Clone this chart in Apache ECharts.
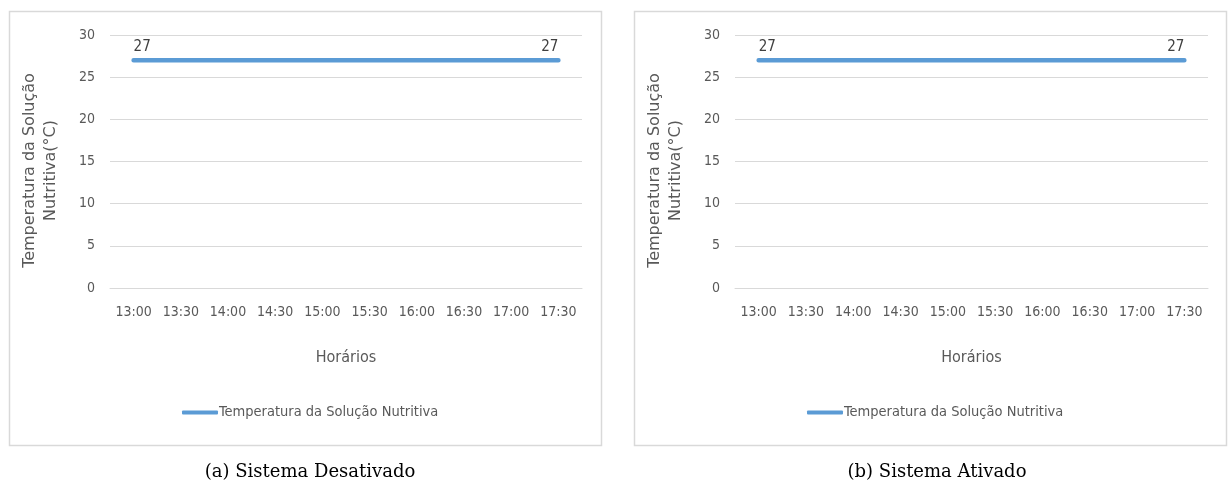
<!DOCTYPE html>
<html><head><meta charset="utf-8">
<script src="https://cdn.jsdelivr.net/npm/echarts@6/dist/echarts.min.js"></script>
<style>html,body{margin:0;padding:0;background:#fff}#c{width:1228px;height:495px}</style>
</head><body><div id="c"></div>
<script>
const categories = ['13:00','13:30','14:00','14:30','15:00','15:30','16:00','16:30','17:00','17:30'];
const tempDesativado = [27,27,27,27,27,27,27,27,27,27];
const tempAtivado = [27,27,27,27,27,27,27,27,27,27];
const yTicks = {min:0, max:30, interval:5};
const seriesName = 'Temperatura da Solução Nutritiva';
const yTitle = 'Temperatura da Solução\nNutritiva(°C)';
const xTitle = 'Horários';
const captions = ['(a) Sistema Desativado','(b) Sistema Ativado'];

const narrow = "'Liberation Sans Narrow','DejaVu Sans Condensed','Roboto Condensed',sans-serif";
const grey = '#595959';
const blue = '#5b9bd5';
const grids = [
  {left:110, right:646, top:35, bottom:207},
  {left:735, right:20, top:35, bottom:207}
];
function labelFor(i, n){
  if(i===0) return {show:true, position:'top', align:'left', offset:[-3,-2]};
  if(i===n-1) return {show:true, position:'top', align:'right', offset:[3,-2]};
  return {show:false};
}
function mkData(arr){ return arr.map((v,i)=>({value:v, label:labelFor(i,arr.length)})); }
const datasets=[tempDesativado, tempAtivado];
const chart = echarts.init(document.getElementById('c'), null, {renderer:'canvas'});
chart.setOption({
  animation:false,
  backgroundColor:'#fff',
  graphic:[
    {type:'rect', shape:{x:9.5,y:11.5,width:592,height:434}, style:{fill:'none', stroke:'#d9d9d9', lineWidth:1.5}},
    {type:'rect', shape:{x:634.5,y:11.5,width:592,height:434}, style:{fill:'none', stroke:'#d9d9d9', lineWidth:1.5}}
  ],
  title:[
    {text:captions[0], left:305, top:458, textAlign:'center', textStyle:{fontFamily:"'DejaVu Serif','Liberation Serif',serif", fontWeight:'normal', fontSize:18, color:'#000'}},
    {text:captions[1], left:932, top:458, textAlign:'center', textStyle:{fontFamily:"'DejaVu Serif','Liberation Serif',serif", fontWeight:'normal', fontSize:18, color:'#000'}}
  ],
  legend:[0,1].map(k=>({
    data:[seriesName], left: k===0?177:802, top:400, itemWidth:36, itemHeight:4, itemGap:0,
    icon:'roundRect', selectedMode:false,
    itemStyle:{color:blue, opacity:1, borderWidth:0},
    textStyle:{fontFamily:narrow, fontSize:14.5, color:grey, padding:[0,0,0,-4]}
  })),
  grid:grids.map(g=>Object.assign({containLabel:false}, g)),
  xAxis:[0,1].map(k=>({
    type:'category', gridIndex:k, data:categories, boundaryGap:true,
    axisLine:{lineStyle:{color:'#d9d9d9'}}, axisTick:{show:false},
    axisLabel:{fontFamily:narrow, fontSize:14, color:grey, margin:17, interval:0},
    name:xTitle, nameLocation:'middle', nameGap:62,
    nameTextStyle:{fontFamily:narrow, fontSize:16, color:grey}
  })),
  yAxis:[0,1].map(k=>({
    type:'value', gridIndex:k, min:yTicks.min, max:yTicks.max, interval:yTicks.interval,
    axisLine:{show:false}, axisTick:{show:false},
    splitLine:{lineStyle:{color:'#d9d9d9', width:1}},
    axisLabel:{fontFamily:narrow, fontSize:14, color:grey, margin:15},
    name:yTitle, nameLocation:'middle', nameRotate:90, nameGap:49,
    nameTextStyle:{fontFamily:"'DejaVu Sans',sans-serif", fontSize:16, color:grey, lineHeight:21, align:'center', padding:[0,18,0,0]}
  })),
  series:[0,1].map(k=>({
    name:seriesName, type:'line', xAxisIndex:k, yAxisIndex:k,
    data:mkData(datasets[k]), showSymbol:true, symbol:'circle', symbolSize:1,
    lineStyle:{color:blue, width:4.5, cap:'round'}, itemStyle:{color:'rgba(0,0,0,0)', borderWidth:0},
    label:{fontFamily:narrow, fontSize:15, color:'#404040'},
    labelLayout:{hideOverlap:false}
  }))
});
</script></body></html>
